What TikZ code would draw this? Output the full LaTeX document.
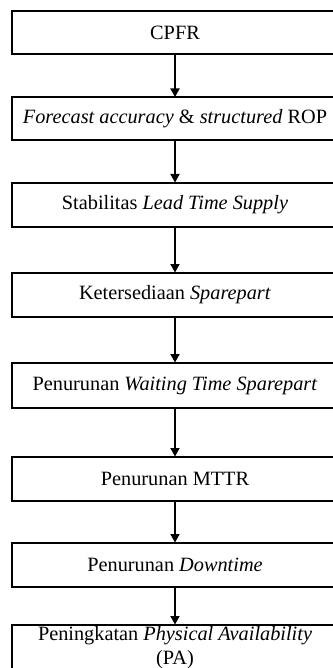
\documentclass[tikz,border=0pt]{standalone}
\usepackage{fontspec}
\setmainfont{Liberation Serif}
\usetikzlibrary{arrows.meta}
\begin{document}
\begin{tikzpicture}[x=1pt,y=1pt,
  box/.style={draw=black, line width=2pt, fill=white, minimum width=326pt, inner sep=0pt, font=\fontsize{20.3}{23}\selectfont},
  conn/.style={line width=1.8pt, -{Triangle[width=9pt,length=8.5pt]}, shorten >=-0.5pt}]
\useasboundingbox (0,0) rectangle (332,-668);
\node[box, minimum height=43pt] (n1) at (175,-32.5) {CPFR};
\node[box, minimum height=43pt] (n2) at (175,-119) {\textit{Forecast accuracy} \& \textit{structured} ROP};
\node[box, minimum height=44pt] (n3) at (175,-205) {Stabilitas \textit{Lead Time Supply}};
\node[box, minimum height=44pt] (n4) at (175,-295) {Ketersediaan \textit{Sparepart}};
\node[box, minimum height=45pt] (n5) at (175,-385.5) {Penurunan \textit{Waiting Time Sparepart}};
\node[box, minimum height=44pt] (n6) at (175,-479) {Penurunan MTTR};
\node[box, minimum height=44pt] (n7) at (175,-565) {Penurunan \textit{Downtime}};
\node[box, minimum height=100pt, anchor=north] (n8) at (175,-624) {};
\node[font=\fontsize{20.3}{24}\selectfont, align=center, inner sep=0pt] (t8) at (175,-648) {Peningkatan \textit{Physical Availability}\\(PA)};
\draw[conn] (n1) -- (n2);
\draw[conn] (n2) -- (n3);
\draw[conn] (n3) -- (n4);
\draw[conn] (n4) -- (n5);
\draw[conn] (n5) -- (n6);
\draw[conn] (n6) -- (n7);
\draw[conn] (n7) -- (n8);
\end{tikzpicture}
\end{document}
